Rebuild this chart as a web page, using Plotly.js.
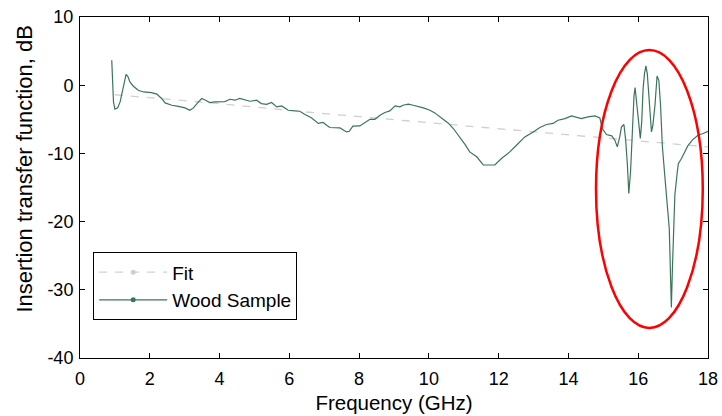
<!DOCTYPE html>
<html>
<head>
<meta charset="utf-8">
<script src="https://cdn.plot.ly/plotly-3.0.1.min.js"></script>
<style>
  html, body { margin: 0; padding: 0; background: #fff; }
  #chart { width: 722px; height: 416px; }
</style>
</head>
<body>
<div id="chart"></div>
<script>
// Measured insertion transfer function of the wood sample (GHz, dB)
const freqGHz = [
  0.91, 0.93, 0.96, 1.00, 1.08, 1.15, 1.22, 1.27, 1.32, 1.37, 1.43, 1.53, 1.67, 1.82,
  2.05, 2.20, 2.34, 2.44, 2.63, 2.82, 3.01, 3.15, 3.25, 3.37, 3.49, 3.60, 3.72, 3.87,
  4.15, 4.30, 4.44, 4.58, 4.73, 4.87, 5.06, 5.20, 5.35, 5.49, 5.64, 5.78, 5.97, 6.30,
  6.45, 6.64, 6.83, 6.97, 7.07, 7.16, 7.45, 7.64, 7.72, 7.82, 8.02, 8.17, 8.31, 8.45,
  8.60, 8.74, 8.88, 9.03, 9.17, 9.26, 9.41, 9.55, 9.69, 9.84, 10.03, 10.17, 10.36,
  10.55, 10.70, 10.89, 11.03, 11.17, 11.37, 11.56, 11.89, 12.08, 12.32, 12.51, 12.75,
  12.99, 13.18, 13.37, 13.56, 13.70, 13.90, 14.09, 14.23, 14.37, 14.56, 14.76, 14.90,
  14.97, 15.09, 15.24, 15.33, 15.40, 15.47, 15.52, 15.59, 15.64, 15.69, 15.73, 15.78,
  15.84, 15.88, 15.91, 15.95, 16.02, 16.06, 16.10, 16.14, 16.18, 16.22, 16.26, 16.31,
  16.38, 16.42, 16.48, 16.54, 16.59, 16.64, 16.69, 16.76, 16.83, 16.89, 16.93, 16.95,
  16.98, 17.03, 17.05, 17.12, 17.15, 17.24, 17.33, 17.42, 17.55, 17.71, 17.86, 18.00
];
const woodDb = [
  3.66, 1.7, -2.45, -3.5, -3.3, -2.45, -0.74, 0.48, 1.6, 1.3, 0.48, -0.15, -0.74, -0.99,
  -1.08, -1.3, -1.95, -2.6, -2.94, -3.1, -3.33, -3.67, -3.33, -2.6, -1.95, -2.2, -2.54, -2.45,
  -2.4, -2.06, -2.2, -1.95, -2.2, -2.35, -2.2, -2.7, -2.8, -2.54, -3.18, -3.04, -3.67, -3.82,
  -4.3, -4.8, -5.6, -5.47, -5.87, -6.2, -6.26, -6.85, -6.75, -6.0, -5.97, -5.4, -5.0, -5.0,
  -4.4, -4.0, -3.77, -3.04, -3.18, -2.94, -2.79, -2.94, -3.08, -3.33, -3.67, -4.06, -4.8,
  -5.53, -6.35, -7.58, -8.65, -9.78, -10.5, -11.7, -11.7, -10.75, -9.78, -8.8, -7.58,
  -6.85, -6.2, -5.76, -5.6, -5.13, -4.9, -4.5, -4.65, -4.9, -4.65, -4.5, -4.8,
  -6.35, -7.23, -7.43, -8.06, -9.05, -7.58, -6.1, -5.76, -8.06, -11.7, -15.87, -12.7,
  -5.38, -1.47, -0.34, -2.45, -5.87, -7.8, -5.38, -0.49, 1.7, 2.82, 1.7, -1.95,
  -6.85, -5.87, -2.94, 1.35, 0.72, -2.94, -8.8, -13.2, -17.6, -21.0, -28.8, -32.6,
  -26.9, -19.05, -16.1, -12.7, -11.5, -10.75, -9.78, -8.9, -8.06, -7.33, -7.08, -6.75
];

// Fitted trend line
const fitGHz = [1, 4, 6.3, 8, 10, 12, 14, 16, 18];
const fitDb = [-1.4, -2.7, -3.85, -4.6, -5.5, -6.4, -7.3, -8.2, -9.05];

// Axis ticks
const xTicks = [0, 2, 4, 6, 8, 10, 12, 14, 16, 18];
const yTicks = [-40, -30, -20, -10, 0, 10];

// Highlighted resonance region (ellipse bounds, data units)
const regionX = [14.79, 17.85];
const regionY = [-35.6, 5.16];

const woodColor = '#3b7558';
const fitColor = '#cfcfcf';
const FONT = 'Liberation Sans, Arial, sans-serif';

const traces = [
  { x: fitGHz, y: fitDb, mode: 'lines', showlegend: false, hoverinfo: 'skip',
    line: { color: fitColor, width: 1.3, dash: '8px,8px' } },
  { x: freqGHz, y: woodDb, mode: 'lines', showlegend: false,
    line: { color: woodColor, width: 1.2 } },
  // legend entries (line with a dot marker)
  { x: [null], y: [null], name: 'Fit', mode: 'lines+markers',
    line: { color: fitColor, width: 1.3, dash: '8px,8px' },
    marker: { color: fitColor, size: 5 } },
  { x: [null], y: [null], name: 'Wood Sample', mode: 'lines+markers',
    line: { color: woodColor, width: 1.2 },
    marker: { color: woodColor, size: 5 } }
];

const axisCommon = {
  showgrid: false, zeroline: false, showline: true, linecolor: '#000', linewidth: 1,
  mirror: 'ticks', ticks: 'inside', ticklen: 5, tickcolor: '#000', tickwidth: 1,
  tickfont: { family: FONT, size: 18, color: '#000' }
};

const layout = {
  width: 722, height: 416,
  paper_bgcolor: '#fff', plot_bgcolor: '#fff',
  margin: { l: 80, r: 14, t: 17, b: 58 },
  font: { family: FONT, color: '#000' },
  xaxis: Object.assign({}, axisCommon, {
    range: [0, 18], tickvals: xTicks, ticktext: xTicks.map(String),
    ticklabelstandoff: 4,
    title: { text: 'Frequency (GHz)', font: { size: 20.5, color: '#000' }, standoff: 8 }
  }),
  yaxis: Object.assign({}, axisCommon, {
    range: [-40, 10], tickvals: yTicks, ticktext: yTicks.map(String),
    ticklabelstandoff: 2
  }),
  annotations: [{
    // y-axis title, sitting slightly above the plot centre
    text: 'Insertion transfer function, dB', textangle: -90, showarrow: false,
    xref: 'paper', yref: 'paper', x: -0.089, y: 0.553,
    xanchor: 'center', yanchor: 'middle',
    font: { family: FONT, size: 22, color: '#000' }
  }],
  legend: {
    x: 0.021, y: 0.31, xanchor: 'left', yanchor: 'top',
    bgcolor: '#fff', bordercolor: '#000', borderwidth: 1,
    font: { family: FONT, size: 19, color: '#000' },
    itemwidth: 68, tracegroupgap: 0
  },
  shapes: [{
    type: 'circle', xref: 'x', yref: 'y',
    x0: regionX[0], x1: regionX[1], y0: regionY[0], y1: regionY[1],
    line: { color: '#ff0000', width: 2.5 }
  }]
};

Plotly.newPlot('chart', traces, layout, { displayModeBar: false, staticPlot: true });
</script>
</body>
</html>
